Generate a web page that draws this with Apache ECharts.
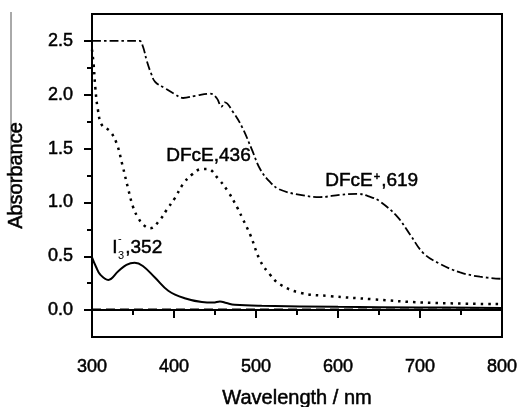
<!DOCTYPE html>
<html>
<head>
<meta charset="utf-8">
<script src="https://cdn.jsdelivr.net/npm/echarts@6/dist/echarts.min.js"></script>
<style>
  html, body { margin: 0; padding: 0; background: #fff; }
  #main { width: 520px; height: 407px; }
</style>
</head>
<body>
<div id="main"></div>
<script>
// DFcE+ (dash-dot)
var wlOx = [300, 320, 340, 358, 362, 367, 372, 377, 389, 400, 411, 426, 444, 452, 458, 462, 472, 483, 495, 505, 517, 529, 554, 578, 602, 623, 640, 651, 672, 688, 704, 724, 749, 773, 800];
var absOx = [2.5, 2.5, 2.5, 2.5, 2.45, 2.31, 2.2, 2.12, 2.06, 2.01, 1.97, 1.99, 2.01, 1.97, 1.89, 1.93, 1.84, 1.70, 1.49, 1.31, 1.19, 1.12, 1.07, 1.05, 1.07, 1.08, 1.05, 1.01, 0.87, 0.70, 0.53, 0.43, 0.35, 0.31, 0.29];
// DFcE (dotted)
var wlRed = [300, 302, 304, 307, 312, 322, 330, 337, 344, 350, 356, 363, 371, 383, 391, 401, 411, 422, 434, 441, 454, 466, 478, 483, 493, 505, 517, 529, 554, 590, 643, 704, 800];
var absRed = [2.42, 2.28, 2.07, 1.87, 1.72, 1.66, 1.55, 1.35, 1.13, 0.96, 0.86, 0.79, 0.76, 0.84, 0.93, 1.04, 1.17, 1.26, 1.31, 1.31, 1.22, 1.10, 0.94, 0.86, 0.70, 0.46, 0.33, 0.24, 0.16, 0.13, 0.10, 0.07, 0.055];
// I3- (solid)
var wlI3 = [300, 305, 310, 320, 332, 342, 352, 362, 377, 393, 413, 434, 448, 456, 464, 474, 507, 600, 700, 800];
var absI3 = [0.49, 0.40, 0.33, 0.28, 0.36, 0.42, 0.44, 0.41, 0.30, 0.18, 0.11, 0.075, 0.07, 0.08, 0.065, 0.05, 0.04, 0.03, 0.025, 0.02];
// baseline (dashed)
var wlBase = [300, 800];
var absBase = [0.005, 0.005];

var yMajor = [0, 0.5, 1.0, 1.5, 2.0, 2.5];
var yMinor = [0.25, 0.75, 1.25, 1.75, 2.25];

function pairs(xs, ys) {
  var out = [];
  for (var i = 0; i < xs.length; i++) out.push([xs[i], ys[i]]);
  return out;
}

var ink = '#000';
var font = 'Liberation Sans, Arial, sans-serif';
// slight thickening so the text looks like the scanned original
var heavy = { textBorderColor: ink, textBorderWidth: 0.5 };
var heavyG = { stroke: ink, lineWidth: 0.5 };

var myChart = echarts.init(document.getElementById('main'));
var option = {
  animation: false,
  grid: { left: 92, right: 18, top: 14, bottom: 70, outerBoundsMode: 'none', containLabel: false,
    show: true, borderColor: ink, borderWidth: 2, backgroundColor: 'transparent' },
  xAxis: {
    type: 'value', min: 300, max: 800, interval: 100,
    name: 'Wavelength / nm', nameLocation: 'middle', nameGap: 51,
    nameTextStyle: Object.assign({ color: ink, fontSize: 20, fontFamily: font }, heavy),
    axisLine: { show: true, lineStyle: { color: ink, width: 2 } },
    axisTick: { show: true, inside: false, length: 8, lineStyle: { color: ink, width: 2 } },
    minorTick: { show: true, splitNumber: 2, length: 5, lineStyle: { color: ink, width: 2 } },
    axisLabel: Object.assign({ color: ink, fontSize: 18, fontFamily: font, margin: 21 }, heavy),
    splitLine: { show: false }
  },
  yAxis: [{
    type: 'value', min: -0.25, max: 2.75, interval: 0.25,
    name: 'Absorbance', nameLocation: 'middle', nameGap: 66,
    nameTextStyle: Object.assign({ color: ink, fontSize: 20, fontFamily: font }, heavy),
    axisLine: { show: true, lineStyle: { color: ink, width: 2 } },
    axisTick: { show: true, length: 8, customValues: yMajor, lineStyle: { color: ink, width: 2 } },
    axisLabel: Object.assign({
      color: ink, fontSize: 18, fontFamily: font, margin: 19, customValues: yMajor,
      formatter: function (v) { return v.toFixed(1); }
    }, heavy),
    splitLine: { show: false }
  }, {
    type: 'value', min: -0.25, max: 2.75, interval: 0.25, position: 'left',
    axisLine: { show: false },
    axisTick: { show: true, length: 5, customValues: yMinor, lineStyle: { color: ink, width: 2 } },
    axisLabel: { show: false },
    splitLine: { show: false }
  }],
  series: [
    { type: 'line', data: pairs(wlBase, absBase), symbol: 'none', lineStyle: { color: ink, width: 2, type: [9, 5] } },
    { type: 'line', data: pairs(wlI3, absI3), symbol: 'none', smooth: 0.4, lineStyle: { color: ink, width: 2 } },
    { type: 'line', data: pairs(wlRed, absRed), symbol: 'none', smooth: 0.4, lineStyle: { color: ink, width: 2.5, type: [2.5, 5] } },
    { type: 'line', data: pairs(wlOx, absOx), symbol: 'none', smooth: 0.4, lineStyle: { color: ink, width: 1.8, type: [9, 3, 2.5, 3] } }
  ],
  graphic: [
    { type: 'line', shape: { x1: 11, y1: 12, x2: 11, y2: 210 }, style: { stroke: '#555', lineWidth: 1 } },
    { type: 'text', left: 166, top: 146, style: Object.assign({ text: 'DFcE,436', fill: ink, fontSize: 19, fontFamily: font }, heavyG) },
    { type: 'text', left: 325, top: 171, style: Object.assign({ text: '{a|DFcE}{s|+}{a|,619}', fill: ink, fontFamily: font,
        rich: { a: { fontSize: 19, fontFamily: font, fill: ink }, s: { fontSize: 11, fontFamily: font, fill: ink, verticalAlign: 'top', padding: [0, 1, 8, 1] } } }, heavyG) },
    { type: 'text', left: 112, top: 238, style: Object.assign({ text: 'I', fill: ink, fontSize: 19, fontFamily: font }, heavyG) },
    { type: 'text', left: 118, top: 250, style: { text: '3', fill: ink, fontSize: 11, fontFamily: font } },
    { type: 'text', left: 118, top: 233, style: { text: '-', fill: ink, fontSize: 11, fontFamily: font } },
    { type: 'text', left: 125, top: 238, style: Object.assign({ text: ',352', fill: ink, fontSize: 19, fontFamily: font }, heavyG) }
  ]
};
myChart.setOption(option);
</script>
</body>
</html>
